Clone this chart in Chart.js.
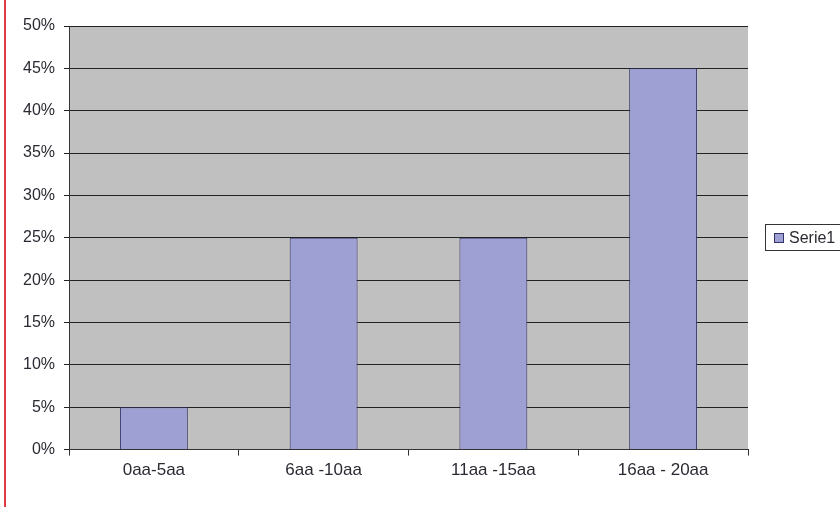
<!DOCTYPE html>
<html lang="en">
<head>
  <meta charset="UTF-8">
  <title>Serie1</title>
  <script src="https://cdn.jsdelivr.net/npm/chart.js"></script>
  <style>
    body { margin: 0; background: #fff; }
    .wrap { position: relative; width: 840px; height: 507px; }
    .redline { position: absolute; left: 4px; top: 0; width: 2px; height: 507px; background: #e03a44; }
    .legend {
      position: absolute; left: 765px; top: 224px; width: 80px; height: 27px;
      border: 1px solid #333; box-sizing: border-box;
      font-family: 'Liberation Sans', Arial, sans-serif; font-size: 16px; color: #2a2a33;
      line-height: 25px; padding-left: 8px;
    }
    .legend span {
      display: inline-block; width: 8px; height: 8px; background: #9e9fd2;
      border: 1px solid #333366; margin-right: 5px; vertical-align: 0px;
    }
  </style>
</head>
<body>
  <div class="wrap">
    <canvas id="chart" width="840" height="507"></canvas>
    <div class="redline"></div>
    <div class="legend"><span></span>Serie1</div>
  </div>

  <script>
    const categories = ['0aa-5aa', '6aa -10aa', '11aa -15aa', '16aa - 20aa'];
    const serie1 = [5, 25, 25, 45];
    const yTicks = [0, 5, 10, 15, 20, 25, 30, 35, 40, 45, 50];

    // gray plot background like the old office chart
    const plotBg = {
      id: 'plotBg',
      beforeDraw(chart) {
        const { ctx, chartArea: a } = chart;
        ctx.save();
        ctx.fillStyle = '#c0c0c0';
        ctx.fillRect(a.left, a.top, a.right - a.left, a.bottom - a.top);
        ctx.restore();
      }
    };

    const fam = "'Liberation Sans', Arial, sans-serif";

    new Chart(document.getElementById('chart'), {
      type: 'bar',
      data: {
        labels: categories,
        datasets: [{
          label: 'Serie1',
          data: serie1,
          backgroundColor: '#9e9fd2',
          borderColor: '#333366',
          borderWidth: 1,
          barPercentage: 0.8,
          categoryPercentage: 0.5
        }]
      },
      options: {
        responsive: false,
        animation: false,
        layout: { padding: { left: 8, right: 92, top: 26, bottom: 21 } },
        plugins: { legend: { display: false }, tooltip: { enabled: false } },
        scales: {
          x: {
            grid: { offset: true, drawOnChartArea: false, tickLength: 6, color: '#333' },
            border: { color: '#333' },
            ticks: { color: '#2a2a33', font: { family: fam, size: 17 }, padding: 5 }
          },
          y: {
            min: 0,
            max: 50,
            afterBuildTicks(scale) { scale.ticks = yTicks.map(v => ({ value: v })); },
            afterFit(scale) { scale.width = 61; },
            grid: { color: '#222', tickLength: 5 },
            border: { color: '#333' },
            ticks: { color: '#2a2a33', font: { family: fam, size: 16 }, padding: 9, callback: v => v + '%' }
          }
        }
      },
      plugins: [plotBg]
    });
  </script>
</body>
</html>
